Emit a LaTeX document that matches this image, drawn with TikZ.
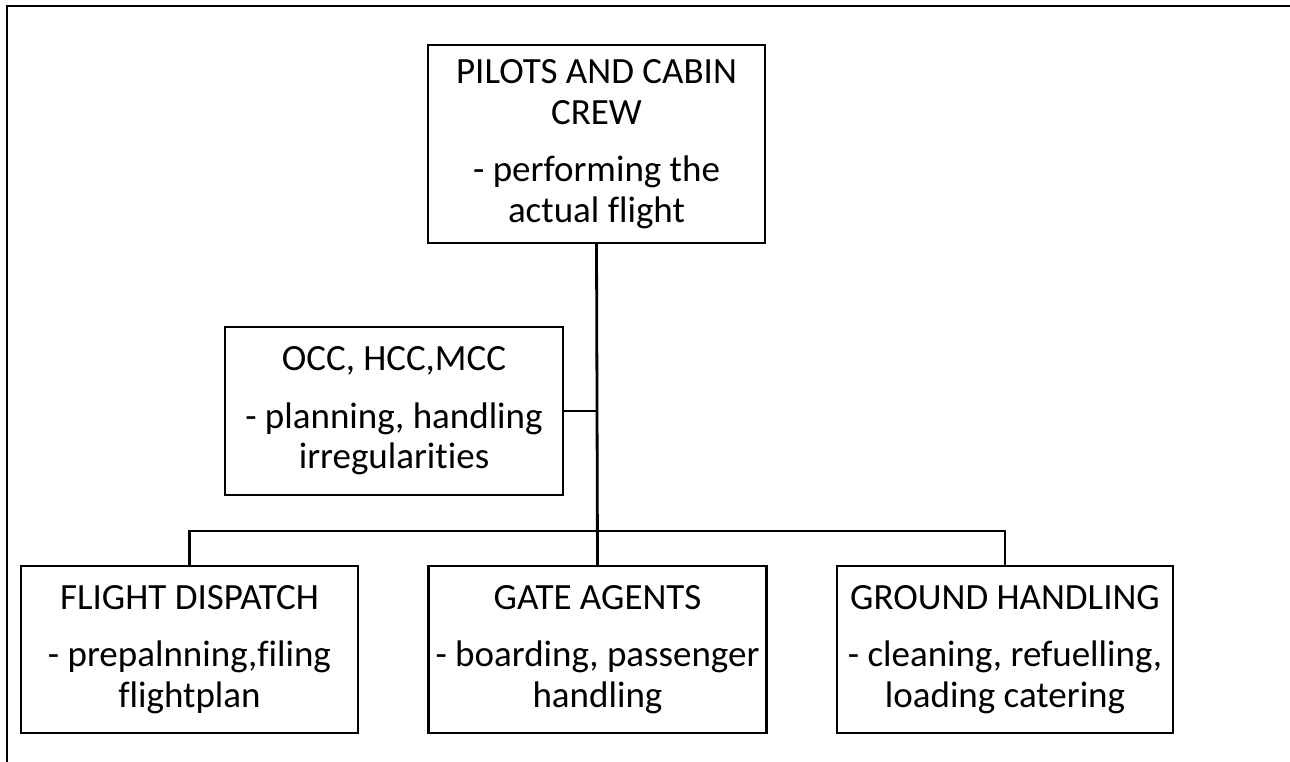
\documentclass[tikz,border=0pt]{standalone}
\usepackage{fontspec}
\setmainfont{Carlito}[Ligatures=CommonOff]
\begin{document}
\begin{tikzpicture}[x=1pt,y=-1pt,
  box/.style={draw=black,line width=2.4pt,rectangle,inner sep=0pt,align=center,
    font=\fontsize{37}{40.5}\selectfont},
  link/.style={draw=black,line width=2.2pt},
  trunk/.style={draw=black,line width=2.8pt}]
\useasboundingbox (0,0) rectangle (1290,762);
% partial frame (top and left)
\draw[line width=2.4pt] (7,762) -- (7,6) -- (1290,6);
\node[box,minimum width=337pt,minimum height=198pt] (pilots) at (596.5,144)
  {PILOTS AND CABIN\\CREW\\[17pt]- performing the\\actual flight};
\node[box,minimum width=338pt,minimum height=168pt] (occ) at (394,411)
  {OCC, HCC,MCC\\[17pt]- planning, handling\\irregularities};
\node[box,minimum width=337pt,minimum height=167pt] (dispatch) at (189.5,649.5)
  {FLIGHT DISPATCH\\[17pt]- prepalnning,filing\\flightplan};
\node[box,minimum width=338pt,minimum height=167pt] (gate) at (597.5,649.5)
  {GATE AGENTS\\[17pt]- boarding, passenger\\handling};
\node[box,minimum width=336pt,minimum height=167pt] (ground) at (1005,649.5)
  {GROUND HANDLING\\[17pt]- cleaning, refuelling,\\loading catering};
\coordinate (busL) at (dispatch.north |- 0,531);
\draw[trunk] (pilots.south) -- (gate.north);
\draw[link] (occ.east) -- (occ.east -| pilots.south);
\draw[link] (dispatch.north) -- (busL) -| (ground.north);
\end{tikzpicture}
\end{document}
